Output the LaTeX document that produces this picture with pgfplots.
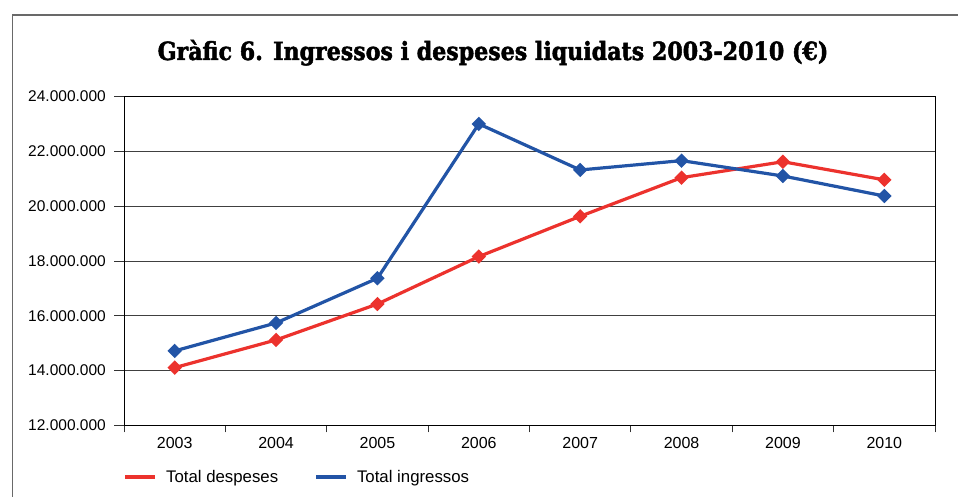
\documentclass[border=0pt]{standalone}
\usepackage{fontspec}
\setmainfont{Liberation Sans}
\newfontfamily\titlefont[FakeStretch=0.885, FakeBold=2]{DejaVu Serif}
\usepackage{pgfplots}
\pgfplotsset{compat=1.18}
\definecolor{cred}{RGB}{236,50,45}
\definecolor{cblue}{RGB}{34,84,166}
\definecolor{frame}{RGB}{105,105,105}
\begin{document}
\begin{tikzpicture}[x=1bp,y=1bp]
\useasboundingbox (0,0) rectangle (958,497);
\draw[frame, line width=1.5bp] (12.3,-20) -- (12.3,482) -- (990,482);
\node[anchor=base, inner sep=0pt] at (493,437) {\titlefont\bfseries\fontsize{25bp}{30bp}\selectfont Gràfic 6. Ingressos i despeses liquidats 2003-2010 (€)};
\begin{axis}[
  at={(124bp,71.5bp)}, anchor=south west,
  scale only axis, width=811bp, height=329bp,
  xmin=-0.5, xmax=7.5, ymin=12000000, ymax=24000000,
  xtick={0,1,2,3,4,5,6,7},
  xticklabels={2003,2004,2005,2006,2007,2008,2009,2010},
  minor xtick={-0.5,0.5,1.5,2.5,3.5,4.5,5.5,6.5,7.5},
  ytick={12000000,14000000,16000000,18000000,20000000,22000000,24000000},
  yticklabels={12.000.000,14.000.000,16.000.000,18.000.000,20.000.000,22.000.000,24.000.000},
  tick pos=left, tick align=outside,
  major tick length=10bp, minor tick length=7bp,
  xtick style={draw=none},
  minor x tick style={draw=black!80, line width=0.9bp},
  ytick style={draw=black!80, line width=0.9bp},
  ymajorgrids, grid style={black!75, line width=0.9bp},
  axis line style={black, line width=1bp},
  scaled y ticks=false,
  yticklabel style={font=\fontsize{15.5bp}{18bp}\selectfont, inner sep=0pt, xshift=-8bp},
  xticklabel style={font=\fontsize{16bp}{19bp}\selectfont, inner sep=0pt, yshift=-1.5bp},
  legend style={at={(axis description cs:-0.001,-0.157)}, anchor=west, draw=none, fill=none,
    font=\fontsize{16.8bp}{19bp}\selectfont, inner sep=0pt,
    /tikz/every odd column/.append style={column sep=7bp},
    /tikz/every even column/.append style={column sep=34bp}},
  legend columns=2,
  legend image code/.code={\draw[#1, mark=none, line width=3.8bp] (0bp,0bp) -- (30bp,0bp);},
]
\addplot[cred, line width=3.2bp, mark=square*, mark size=3.5bp, mark options={rotate=45, solid}]
  coordinates {(0,14110000) (1,15120000) (2,16430000) (3,18160000) (4,19630000) (5,21040000) (6,21620000) (7,20960000)};
\addlegendentry{Total despeses}
\addplot[cblue, line width=3.2bp, mark=square*, mark size=3.5bp, mark options={rotate=45, solid}]
  coordinates {(0,14720000) (1,15740000) (2,17370000) (3,23000000) (4,21320000) (5,21660000) (6,21100000) (7,20370000)};
\addlegendentry{Total ingressos}
\end{axis}
\end{tikzpicture}
\end{document}
